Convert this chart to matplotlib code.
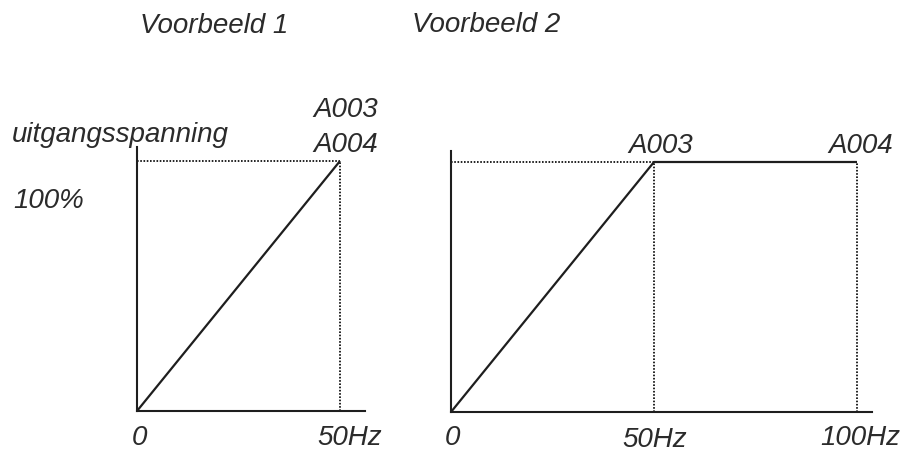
import matplotlib
matplotlib.use("Agg")
import matplotlib.pyplot as plt

# data
freq1 = [0, 50]
volt1 = [0, 100]
freq2 = [0, 50, 100]
volt2 = [0, 100, 100]
guide1_x = [50]
guide2_x = [50, 100]
titles = ["Voorbeeld 1", "Voorbeeld 2"]
ylabel = "uitgangsspanning"
ylevel = "100%"

W, H = 904, 452
INK = "#1e1e1e"
FONT = dict(family="Liberation Sans", style="italic", size=20, color="#2b2b2b")

fig = plt.figure(figsize=(W / 100, H / 100), dpi=100)


def px(x, y):
    # pixel position (from top-left) -> figure fraction
    return x / W, 1 - y / H


def put(x, y, s, **kw):
    fx, fy = px(x, y)
    fig.text(fx, fy, s, va="baseline", **FONT, **kw)


def make_axes(left, right, top, bottom, xmax, ymax):
    ax = fig.add_axes([left / W, 1 - bottom / H, (right - left) / W, (bottom - top) / H])
    ax.set_xlim(0, xmax)
    ax.set_ylim(0, ymax)
    for s in ["top", "right"]:
        ax.spines[s].set_visible(False)
    for s in ["left", "bottom"]:
        ax.spines[s].set_color(INK)
        ax.spines[s].set_linewidth(1.5)
    ax.set_xticks([])
    ax.set_yticks([])
    ax.patch.set_alpha(0)
    return ax


dot = dict(color="#111111", lw=1.3, linestyle=(0, (0.9, 0.9)))
solid = dict(color=INK, lw=1.6, solid_capstyle="butt")

# example 1
ax1 = make_axes(137, 365, 148, 412, (365 - 137) / 4.06, (412 - 148) / 2.5)
ax1.plot([0, freq1[-1]], [volt1[-1], volt1[-1]], **dot)
for g in guide1_x:
    ax1.plot([g, g], [0, volt1[-1]], **dot)
ax1.plot(freq1, volt1, **solid)

# example 2
ax2 = make_axes(451, 872, 152, 413, (872 - 451) / 4.06, (413 - 152) / 2.5)
ax2.plot([0, freq2[1]], [volt2[1], volt2[1]], **dot)
for g in guide2_x:
    ax2.plot([g, g], [0, volt2[-1]], **dot)
ax2.plot(freq2, volt2, **solid)

# texts
put(140, 33, titles[0])
put(412, 32, titles[1])
put(12, 142, ylabel)
put(13, 208, ylevel)
put(313, 117, "A003")
put(313, 152, "A004")
put(628, 153, "A003")
put(828, 153, "A004")
put(132, 445, "0")
put(317, 445, "50Hz")
put(445, 445, "0")
put(622, 447, "50Hz")
put(820, 445, "100Hz")

fig.savefig("out.png", dpi=100, facecolor="white")
